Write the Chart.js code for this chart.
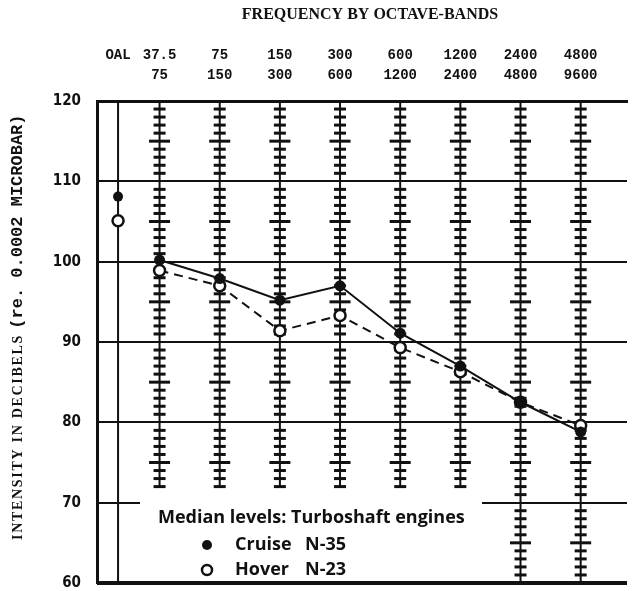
<!DOCTYPE html>
<html>
<head>
<meta charset="utf-8">
<script src="https://cdn.jsdelivr.net/npm/chart.js@4"></script>
<style>
  html, body { margin: 0; padding: 0; background: #fff; }
  #wrap { width: 635px; height: 591px; }
</style>
</head>
<body>
<div id="wrap"><canvas id="noiseChart"></canvas></div>
<script>
// octave bands (Hz), drawn as columns 1..8; OAL sits left of them
const bands = [['37.5', '75'], ['75', '150'], ['150', '300'], ['300', '600'],
               ['600', '1200'], ['1200', '2400'], ['2400', '4800'], ['4800', '9600']]
const bandPos = [1, 2, 3, 4, 5, 6, 7, 8]
const cruise = [100.2, 97.9, 95.2, 97.0, 91.1, 87.0, 82.5, 78.8]
const hover = [98.9, 97.0, 91.4, 93.3, 89.3, 86.3, 82.5, 79.6]
const oalCruise = 108.1
const oalHover = 105.1
const yTicks = [60, 70, 80, 90, 100, 110, 120]

const oalPos = 0.31
const ink = '#111'

const ladderPlugin = {
    id: 'ladders',
    beforeDatasetsDraw(chart) {
        const { ctx, chartArea, scales: { x, y } } = chart
        ctx.save()
        // blank area behind the legend
        const top = y.getPixelForValue(71.3)
        ctx.fillStyle = '#fff'
        ctx.fillRect(140, top, 342, chartArea.bottom - 3 - top)

        ctx.strokeStyle = ink
        // heavy bottom frame line
        ctx.lineWidth = 4
        ctx.beginPath()
        ctx.moveTo(chartArea.left, y.getPixelForValue(60))
        ctx.lineTo(chartArea.right, y.getPixelForValue(60))
        ctx.stroke()

        // OAL divider
        ctx.lineWidth = 2
        ctx.beginPath()
        ctx.moveTo(x.getPixelForValue(oalPos), chartArea.top)
        ctx.lineTo(x.getPixelForValue(oalPos), chartArea.bottom)
        ctx.stroke()

        const lows = [72, 72, 72, 72, 72, 72, 60, 60]
        bandPos.forEach((p, i) => {
            const px = x.getPixelForValue(p)
            ctx.lineWidth = 2
            ctx.beginPath()
            ctx.moveTo(px, chartArea.top)
            ctx.lineTo(px, y.getPixelForValue(lows[i]))
            ctx.stroke()
            ctx.lineWidth = 3
            for (let v = 119; v >= lows[i]; v--) {
                if (v % 10 === 0 && v !== lows[i]) continue
                if (v === 60) continue
                const half = v % 5 === 0 ? 10.5 : 6
                const py = y.getPixelForValue(v)
                ctx.beginPath()
                ctx.moveTo(px - half, py)
                ctx.lineTo(px + half, py)
                ctx.stroke()
            }
        })
        ctx.restore()
    },
    afterDraw(chart) {
        const { ctx } = chart
        ctx.save()
        ctx.fillStyle = ink
        ctx.textBaseline = 'middle'
        ctx.font = 'bold 16px "Liberation Serif", serif'
        ctx.textAlign = 'center'
        ctx.fillText('FREQUENCY BY OCTAVE-BANDS', 370, 15)

        // y axis title, two typefaces as in the original
        ctx.save()
        ctx.translate(18, 540)
        ctx.rotate(-Math.PI / 2)
        ctx.textAlign = 'left'
        ctx.font = 'bold 14px "Liberation Serif", serif'
        ctx.letterSpacing = '1.7px'
        const part1 = 'INTENSITY IN DECIBELS '
        ctx.fillText(part1, 0, 0)
        const w1 = ctx.measureText(part1).width
        ctx.letterSpacing = '0px'
        ctx.font = 'bold 17px "Liberation Mono", monospace'
        ctx.fillText('(re. 0.0002 MICROBAR)', w1, 0)
        ctx.restore()

        ctx.textAlign = 'left'
        ctx.font = 'bold 18px "Open Sans", sans-serif'
        ctx.fillText('Median levels: Turboshaft engines', 158, 518)
        ctx.fillText('Cruise', 235, 545)
        ctx.fillText('N-35', 305, 545)
        ctx.fillText('Hover', 235, 570)
        ctx.fillText('N-23', 305, 570)

        ctx.beginPath()
        ctx.arc(207, 545, 5, 0, Math.PI * 2)
        ctx.fill()
        ctx.lineWidth = 2.5
        ctx.strokeStyle = ink
        ctx.beginPath()
        ctx.arc(207, 570, 5, 0, Math.PI * 2)
        ctx.stroke()
        ctx.restore()
    }
}

const xMin = -0.04
const xMax = 8.77

new Chart(document.getElementById('noiseChart'), {
    type: 'line',
    data: {
        datasets: [
            {
                label: 'Cruise N-35',
                data: bandPos.map((p, i) => ({ x: p, y: cruise[i] })),
                borderColor: ink,
                backgroundColor: ink,
                borderWidth: 2,
                pointRadius: 5.5,
                pointBorderWidth: 0
            },
            {
                label: 'Hover N-23',
                data: bandPos.map((p, i) => ({ x: p, y: hover[i] })),
                borderColor: ink,
                backgroundColor: '#fff',
                borderWidth: 2,
                borderDash: [9, 6],
                pointRadius: 5.5,
                pointBorderWidth: 2.5
            },
            {
                label: 'OAL cruise',
                data: [{ x: oalPos, y: oalCruise }],
                borderColor: ink,
                backgroundColor: ink,
                showLine: false,
                pointRadius: 5,
                pointBorderWidth: 0
            },
            {
                label: 'OAL hover',
                data: [{ x: oalPos, y: oalHover }],
                borderColor: ink,
                backgroundColor: '#fff',
                showLine: false,
                pointRadius: 5.5,
                pointBorderWidth: 2.5
            }
        ]
    },
    options: {
        responsive: true,
        maintainAspectRatio: false,
        animation: false,
        layout: { padding: { left: 0, right: 5, top: 0, bottom: 0 } },
        plugins: { legend: { display: false }, tooltip: { enabled: false } },
        scales: {
            x: {
                type: 'linear', position: 'bottom', min: xMin, max: xMax,
                display: false
            },
            x2: {
                type: 'linear', position: 'top', min: xMin, max: xMax,
                afterBuildTicks(s) {
                    s.ticks = [{ value: oalPos }].concat(bandPos.map(v => ({ value: v })))
                },
                ticks: {
                    autoSkip: false, maxRotation: 0, padding: 16, color: ink,
                    font: { family: '"Liberation Mono", monospace', size: 14, weight: 'bold', lineHeight: 1.43 },
                    callback: (v, i) => i === 0 ? ['OAL', ''] : bands[i - 1]
                },
                grid: { display: false, drawTicks: false },
                border: { color: ink, width: 3 },
                afterFit(s) { s.height = 101; s.paddingLeft = 0; s.paddingRight = 0 }
            },
            y: {
                min: 60, max: 120,
                afterBuildTicks(s) { s.ticks = yTicks.map(v => ({ value: v })) },
                ticks: {
                    padding: 16, color: ink,
                    font: { family: '"DejaVu Sans Condensed", sans-serif', size: 15, weight: 'bold' }
                },
                grid: { color: ink, drawTicks: false, lineWidth: 2 },
                border: { color: ink, width: 3 },
                afterFit(s) { s.width = 97; s.paddingTop = 0; s.paddingBottom = 0 }
            }
        }
    },
    plugins: [ladderPlugin]
})
</script>
</body>
</html>
